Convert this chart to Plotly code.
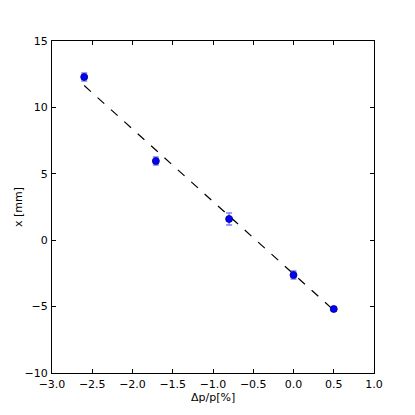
import numpy as np
import plotly.graph_objects as go

# measured offsets vs. momentum deviation
dp = [-2.6, -1.71, -0.8, 0.0, 0.5]
x_mm = [12.29, 5.96, 1.6, -2.62, -5.18]
x_err = [0.3, 0.3, 0.45, 0.3, 0.15]

# weighted linear fit
coef = np.polyfit(dp, x_mm, 1, w=1.0 / np.array(x_err))
fit_x = np.array([min(dp), max(dp)])
fit_y = np.polyval(coef, fit_x)

fig = go.Figure()

fig.add_trace(go.Scatter(
    x=fit_x, y=fit_y, mode="lines",
    line=dict(color="black", width=1.2, dash="dash"),
    showlegend=False,
))

fig.add_trace(go.Scatter(
    x=dp, y=x_mm, mode="markers",
    error_y=dict(type="data", array=x_err, visible=True,
                 color="rgba(70,70,255,0.7)", thickness=1.5, width=3),
    marker=dict(color="#0000ff", size=7, line=dict(color="#00007f", width=0.8)),
    showlegend=False,
))

axis_common = dict(
    showline=True, linecolor="black", linewidth=1, mirror="ticks",
    ticks="inside", ticklen=4, tickcolor="black",
    showgrid=False, zeroline=False, automargin=False,
    tickfont=dict(family="DejaVu Sans", size=11, color="black"),
)

fig.update_xaxes(
    range=[-3, 1], tickvals=[-3, -2.5, -2, -1.5, -1, -0.5, 0, 0.5, 1],
    tickformat=".1f", ticklabelstandoff=1,
    **axis_common,
)
fig.update_yaxes(
    range=[-10, 15], tickvals=[-10, -5, 0, 5, 10, 15],
    ticklabelstandoff=1,
    **axis_common,
)

# axis titles as annotations so they sit where matplotlib put them
title_font = dict(family="DejaVu Sans", size=11, color="black")
fig.add_annotation(text="Δp/p[%]", xref="paper", yref="paper", x=0.5, y=0,
                   xanchor="center", yanchor="middle", yshift=-24,
                   showarrow=False, font=title_font)
fig.add_annotation(text="x [mm]", xref="paper", yref="paper", x=0, y=0.5,
                   xanchor="center", yanchor="middle", xshift=-34, textangle=-90,
                   showarrow=False, font=title_font)

# page body has an 8px margin, so keep the figure inside the window
fig.update_layout(
    width=399, height=399,
    margin=dict(l=44, r=33, t=33, b=34),
    paper_bgcolor="white", plot_bgcolor="white",
    font=dict(family="DejaVu Sans", size=11, color="black"),
)

fig.write_html("out.html")
